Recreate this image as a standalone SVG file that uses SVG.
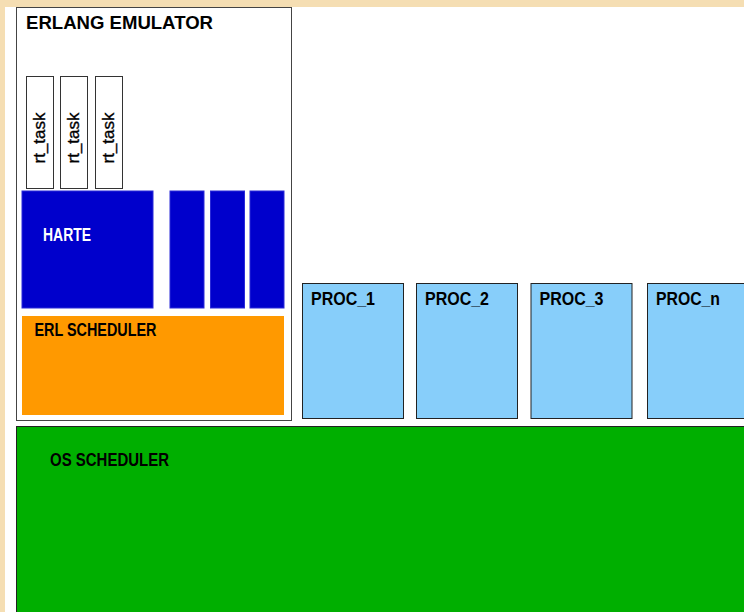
<svg xmlns="http://www.w3.org/2000/svg" width="744" height="612" viewBox="0 0 744 612">
<style>
.lbl{font-family:"Liberation Sans",Arial,sans-serif;font-weight:bold;fill:#000}
.glbl{font-family:"Liberation Sans",Arial,sans-serif;font-weight:bold;font-size:17.5px;fill:#000}
.rt{font-family:"Liberation Sans",Arial,sans-serif;font-size:17px;fill:#000;stroke:#000;stroke-width:0.35}
.task{fill:#fff;stroke:#333;stroke-width:1}
.blue{fill:#0000CC;stroke:#2a2ad8;stroke-width:1}
.proc{fill:#87CEFA;stroke:#222;stroke-width:1}
</style>
<rect x="0" y="0" width="744" height="612" fill="#F5DEB3"/>
<rect x="5" y="7" width="739" height="605" fill="#fff"/>
<g id="erlang-emulator">
<rect x="16.5" y="7.5" width="275" height="413" fill="#fff" stroke="#444"/>
<text class="lbl" x="26" y="29" font-size="18" textLength="187" lengthAdjust="spacingAndGlyphs">ERLANG EMULATOR</text>
</g>
<g id="rt-task-1">
<rect class="task" x="26.5" y="76.5" width="27" height="112"/>
<text class="rt" transform="translate(45,163.5) rotate(-90)" textLength="51" lengthAdjust="spacingAndGlyphs">rt_task</text>
</g>
<g id="rt-task-2">
<rect class="task" x="60.5" y="76.5" width="27" height="112"/>
<text class="rt" transform="translate(79,163.5) rotate(-90)" textLength="51" lengthAdjust="spacingAndGlyphs">rt_task</text>
</g>
<g id="rt-task-3">
<rect class="task" x="95.5" y="76.5" width="27" height="112"/>
<text class="rt" transform="translate(114,163.5) rotate(-90)" textLength="51" lengthAdjust="spacingAndGlyphs">rt_task</text>
</g>
<g id="harte">
<rect class="blue" x="22" y="191" width="131" height="117"/>
<text class="glbl" x="43" y="240.5" style="fill:#fff" textLength="48" lengthAdjust="spacingAndGlyphs">HARTE</text>
</g>
<g id="blue-1"><rect class="blue" x="170" y="191" width="34" height="117"/></g>
<g id="blue-2"><rect class="blue" x="210.5" y="191" width="34" height="117"/></g>
<g id="blue-3"><rect class="blue" x="250" y="191" width="34" height="117"/></g>
<g id="erl-scheduler">
<rect x="22" y="316" width="262" height="99" fill="#FF9900"/>
<text class="glbl" x="34.5" y="336" textLength="122" lengthAdjust="spacingAndGlyphs">ERL SCHEDULER</text>
</g>
<g id="proc-1">
<rect class="proc" x="302.5" y="283.5" width="101" height="135"/>
<text class="glbl" x="311" y="304.5" textLength="64" lengthAdjust="spacingAndGlyphs">PROC_1</text>
</g>
<g id="proc-2">
<rect class="proc" x="416.5" y="283.5" width="101" height="135"/>
<text class="glbl" x="425" y="304.5" textLength="64" lengthAdjust="spacingAndGlyphs">PROC_2</text>
</g>
<g id="proc-3">
<rect class="proc" x="531" y="283.5" width="101" height="135"/>
<text class="glbl" x="539.5" y="304.5" textLength="64" lengthAdjust="spacingAndGlyphs">PROC_3</text>
</g>
<g id="proc-n">
<rect class="proc" x="647.5" y="283.5" width="101" height="135"/>
<text class="glbl" x="656" y="304.5" textLength="64" lengthAdjust="spacingAndGlyphs">PROC_n</text>
</g>
<g id="os-scheduler">
<rect x="16.5" y="426.5" width="740" height="200" fill="#00AF00" stroke="#222"/>
<text class="glbl" x="50" y="466" textLength="119" lengthAdjust="spacingAndGlyphs">OS SCHEDULER</text>
</g>
<g id="connectors"/>
</svg>
